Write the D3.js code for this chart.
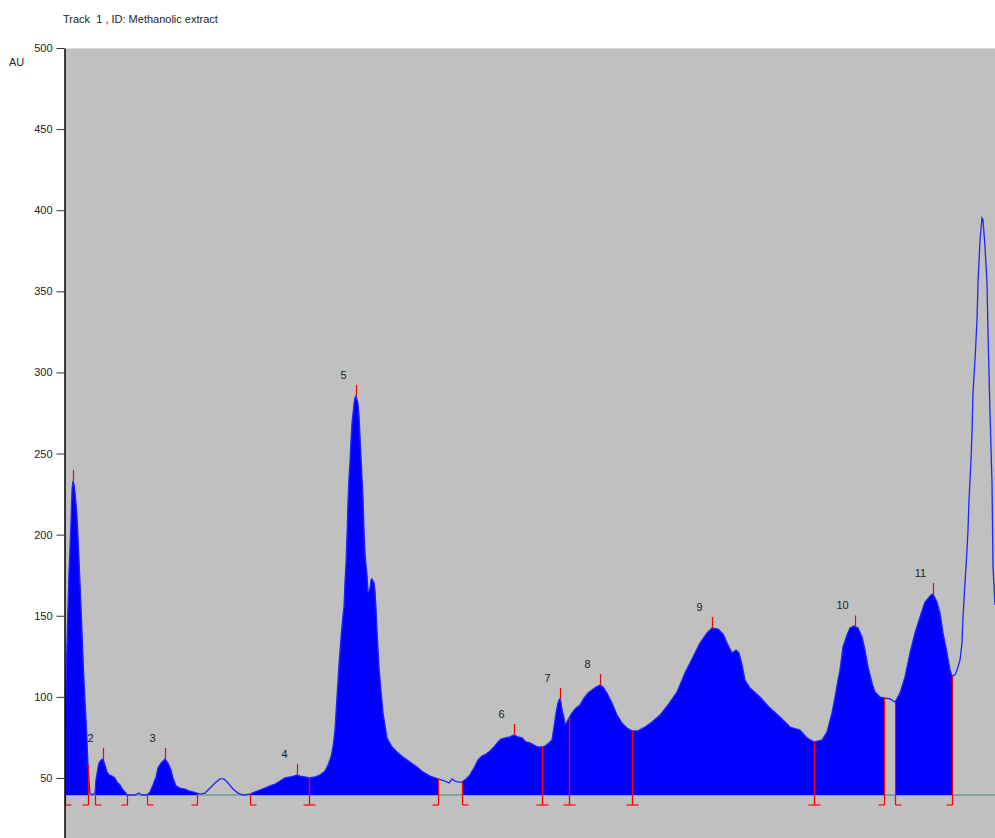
<!DOCTYPE html>
<html lang="en">
<head>
  <meta charset="utf-8">
  <title>Track 1, ID: Methanolic extract</title>
  <script src="https://d3js.org/d3.v7.min.js"></script>
  <style>
    body { margin: 0; background: #fff; }
    svg { display: block; font-family: "Liberation Sans", Arial, sans-serif; }
    .axis .tick text { font-size: 11px; fill: #222; }
    .axis .tick line { stroke: #333; }
    .label { font-size: 11px; fill: #222; white-space: pre; }
  </style>
</head>
<body>
<svg width="995" height="838"></svg>
<script>
  // densitogram, track position (0-930) vs. AU
  var profile = [
    [0, 79.6], [1, 110.4], [2, 132.0], [3, 155.4], [4, 176.4], [5, 191.8], [6, 207.8], [7, 227.5],
    [8, 233.1], [9, 231.2], [10, 226.3], [11, 219.5], [12, 210.9], [13, 198.6], [14, 184.4], [15, 170.2],
    [16, 155.4], [17, 140.0], [18, 124.6], [19, 110.4], [20, 98.1], [21, 85.8], [22, 73.4], [23, 58.0],
    [24, 47.5], [25, 40.7], [27, 39.5],
    [30, 40.7], [31, 48.8], [33, 56.2], [34, 59.2], [36, 61.1], [38, 61.7], [40, 58.0], [42, 53.7],
    [44, 51.9], [47, 51.2], [50, 50.0], [52, 47.5], [55, 45.7], [58, 42.6], [61, 40.7], [62, 39.5],
    [70, 39.5], [74, 40.7], [77, 39.5], [82, 39.5],
    [85, 41.4], [88, 45.7], [91, 50.6], [93, 56.2], [96, 59.2], [100, 61.7], [103, 59.2], [106, 54.9],
    [108, 50.0], [111, 45.1], [115, 43.8], [120, 43.2], [124, 42.0], [128, 41.4], [132, 40.7],
    [135, 40.1], [140, 40.7], [145, 43.8], [150, 46.9], [155, 49.4], [159, 49.4], [163, 46.9],
    [168, 43.2], [173, 40.7], [178, 39.5],
    [185, 40.1], [190, 41.4], [195, 42.6], [200, 43.8], [205, 45.1], [210, 46.3], [215, 48.1],
    [220, 50.0], [225, 50.6], [229, 51.2], [232, 51.9], [235, 51.2], [240, 50.6], [244, 50.0],
    [250, 50.6], [255, 51.9], [260, 54.3], [263, 58.0], [266, 62.9], [268, 69.1], [270, 79.6],
    [272, 99.9], [274, 119.7], [276, 136.3], [278, 150.5], [279, 155.4], [280, 170.8], [281, 181.9],
    [282, 198.6], [283, 220.1], [284, 234.9], [285, 244.8], [286, 257.7], [287, 268.8], [288, 274.4],
    [289, 280.5], [290, 284.2], [291, 285.5], [292, 283.0], [293, 280.5], [294, 273.8], [295, 260.2],
    [296, 247.9], [297, 234.9], [298, 223.2], [299, 202.9], [300, 188.7], [301, 181.3], [302, 175.1],
    [303, 164.7], [304, 164.7], [305, 167.1], [306, 172.1], [307, 172.7], [308, 171.4], [309, 170.2],
    [310, 165.3], [311, 154.8], [312, 141.2], [313, 128.9], [314, 118.4], [315, 110.4], [318, 90.1],
    [322, 74.7], [327, 69.1], [332, 66.0], [338, 62.9], [345, 59.9], [352, 56.8], [358, 53.7],
    [365, 51.2], [373, 49.4],
    [380, 48.1], [384, 46.9], [387, 49.4], [390, 48.1], [394, 47.5], [397, 47.5],
    [401, 49.4], [405, 51.9], [409, 56.2], [413, 61.1], [417, 63.6], [421, 64.8], [425, 66.6],
    [429, 69.1], [433, 72.2], [436, 74.0], [440, 74.7], [445, 75.3], [449, 76.5], [453, 75.3],
    [457, 74.7], [461, 72.2], [465, 71.6], [469, 70.3], [473, 69.1], [477, 69.1],
    [480, 69.7], [484, 71.6], [487, 73.4], [489, 81.4], [491, 90.1], [493, 96.2], [494, 98.1],
    [495, 98.7], [496, 96.8], [497, 91.9], [499, 87.0], [500, 82.7], [501, 83.3], [503, 85.8], [504, 87.0],
    [507, 90.1], [511, 93.1], [515, 95.0], [519, 99.3], [523, 102.4], [527, 104.2], [531, 106.1],
    [535, 107.3], [538, 106.1], [542, 102.4], [547, 96.2], [552, 88.8], [557, 83.9], [562, 80.8], [567, 79.0],
    [573, 79.0], [580, 81.4], [587, 84.5], [595, 88.8], [603, 95.0], [612, 103.0], [620, 114.7],
    [628, 124.6], [635, 133.2], [642, 139.4], [647, 142.5], [653, 141.8], [658, 138.8], [663, 132.0],
    [667, 127.1], [671, 128.9], [674, 127.1], [677, 119.7], [680, 110.4], [685, 105.5], [695, 99.9],
    [705, 93.1], [715, 87.6], [725, 81.4], [735, 79.6], [742, 74.7], [749, 72.2],
    [757, 73.4], [762, 78.4], [767, 90.1], [770, 99.9], [773, 110.4], [775, 116.6], [778, 130.8],
    [782, 138.2], [785, 142.5], [789, 143.7], [793, 142.5], [797, 136.9], [800, 128.9], [803, 118.4],
    [807, 108.6], [810, 103.0], [815, 99.9], [819, 99.3],
    [825, 98.7], [830, 96.8],
    [835, 102.4], [840, 112.3], [845, 127.1], [850, 139.4], [855, 149.2], [860, 158.5], [866, 162.8],
    [868, 163.4], [872, 158.5], [875, 151.7], [878, 139.4], [882, 127.1], [885, 116.6], [887, 112.9],
    [890, 113.5], [892, 116.6], [895, 122.7], [897, 133.2], [898, 149.2], [900, 170.2], [902, 190.5],
    [903, 202.9], [904, 221.4], [906, 246.0], [907, 262.7], [908, 287.3], [910, 307.7], [912, 332.3],
    [913, 355.1], [915, 381.6], [917, 395.2], [918, 394.0], [920, 377.3], [922, 355.1], [923, 324.3],
    [925, 275.0], [927, 231.9], [928, 180.1], [930, 156.6]
  ];

  var peakIds = [1, 2, 3, 4, 5, 6, 7, 8, 9, 10, 11];
  var peakStart = [0, 30, 82, 185, 244, 397, 477, 504, 567, 749, 830];
  var peakEnd = [23, 62, 132, 244, 373, 477, 504, 567, 749, 819, 887];
  var peakApex = [8, 38, 100, 232, 291, 449, 495, 535, 647, 790, 868];
  var yTicks = [50, 100, 150, 200, 250, 300, 350, 400, 450, 500];
  var baselineAU = 39.5;

  var svg = d3.select("svg"),
    width = +svg.attr("width"),
    height = +svg.attr("height");

  var plotLeft = 65, plotTop = 48;

  var x = d3.scaleLinear().domain([0, 930]).range([plotLeft, width]);
  var y = d3.scaleLinear().domain([13, 500]).range([height, plotTop]);

  var bisect = d3.bisector(function (d) { return d[0]; }).left;

  function valueAt(p) {
    var i = bisect(profile, p);
    if (i <= 0) return profile[0][1];
    if (i >= profile.length) return profile[profile.length - 1][1];
    var a = profile[i - 1], b = profile[i];
    return a[1] + (b[1] - a[1]) * (p - a[0]) / (b[0] - a[0]);
  }

  svg.append("defs").append("clipPath").attr("id", "plot")
    .append("rect").attr("x", plotLeft).attr("y", plotTop)
    .attr("width", width - plotLeft).attr("height", height - plotTop);

  svg.append("rect")
    .attr("x", plotLeft).attr("y", plotTop)
    .attr("width", width - plotLeft).attr("height", height - plotTop)
    .attr("fill", "#c0c0c0");
  svg.append("line")
    .attr("x1", plotLeft).attr("x2", width).attr("y1", plotTop + 0.5).attr("y2", plotTop + 0.5)
    .attr("stroke", "#dcdcdc");

  var plot = svg.append("g").attr("clip-path", "url(#plot)");

  var yBase = y(baselineAU);

  plot.append("line")
    .attr("x1", plotLeft).attr("x2", width)
    .attr("y1", yBase).attr("y2", yBase)
    .attr("stroke", "#6e9c98").attr("stroke-width", 1.5);

  var area = d3.area()
    .x(function (d) { return x(d[0]); })
    .y0(yBase)
    .y1(function (d) { return y(d[1]); });

  peakIds.forEach(function (id, i) {
    var s = peakStart[i], e = peakEnd[i];
    var pts = [[s, valueAt(s)]]
      .concat(profile.filter(function (d) { return d[0] > s && d[0] < e; }))
      .concat([[e, valueAt(e)]]);
    plot.append("path")
      .datum(pts)
      .attr("fill", "#0000ff")
      .attr("d", area);
  });

  var line = d3.line()
    .x(function (d) { return x(d[0]); })
    .y(function (d) { return y(d[1]); });

  plot.append("path")
    .datum(profile)
    .attr("fill", "none")
    .attr("stroke", "#2323ff")
    .attr("stroke-width", 1.3)
    .attr("d", line);

  // integration boundaries and peak maxima
  var footY = yBase + 10;
  var marks = plot.append("g").attr("stroke", "#ff0000").attr("stroke-width", 1.2);
  peakIds.forEach(function (id, i) {
    [[peakStart[i], 1], [peakEnd[i], -1]].forEach(function (m) {
      var px = Math.round(x(m[0])) + 0.5;
      marks.append("line")
        .attr("x1", px).attr("x2", px)
        .attr("y1", y(valueAt(m[0]))).attr("y2", footY);
      marks.append("line")
        .attr("x1", px).attr("x2", px + 6 * m[1])
        .attr("y1", footY).attr("y2", footY);
    });

    var ax = Math.round(x(peakApex[i])) + 0.5,
      ay = y(valueAt(peakApex[i]));
    marks.append("line")
      .attr("x1", ax).attr("x2", ax)
      .attr("y1", ay - 11).attr("y2", ay);

    plot.append("text")
      .attr("class", "label")
      .attr("x", ax - 13)
      .attr("y", ay - 17)
      .attr("text-anchor", "middle")
      .text(id);
  });

  var axis = svg.append("g")
    .attr("class", "axis")
    .attr("transform", "translate(" + (plotLeft - 0.5) + ",0)")
    .call(d3.axisLeft(y).tickValues(yTicks).tickSize(8).tickSizeOuter(0).tickPadding(4));
  axis.select(".domain").attr("stroke", "#000").attr("stroke-width", 1.5);

  svg.append("text")
    .attr("class", "label")
    .attr("x", 9).attr("y", 66)
    .text("AU");

  svg.append("text")
    .attr("class", "label")
    .attr("x", 63).attr("y", 23)
    .text("Track  1 , ID: Methanolic extract");
</script>
</body>
</html>
